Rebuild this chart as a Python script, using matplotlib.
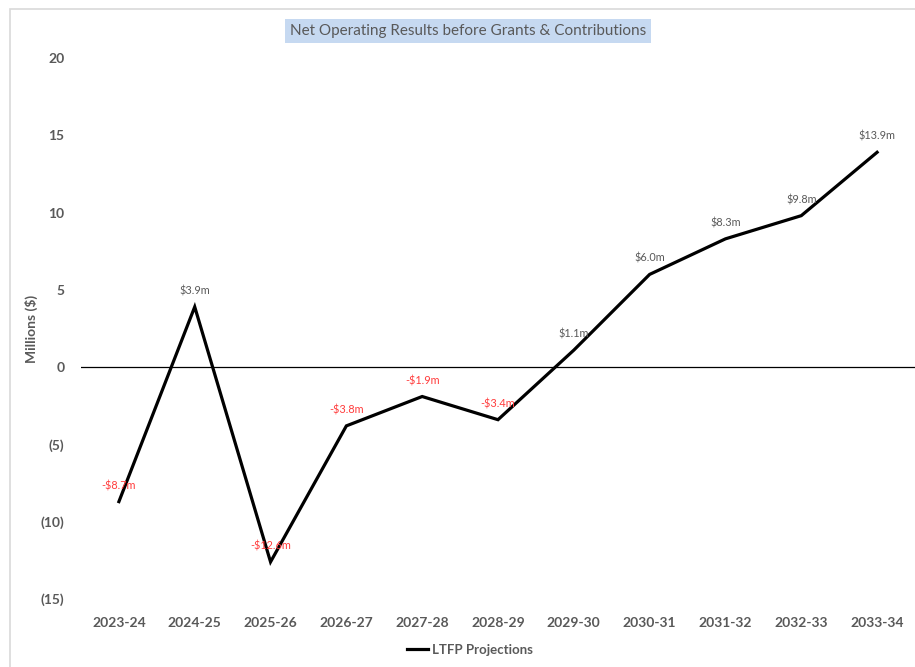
import matplotlib
matplotlib.use("Agg")
import matplotlib.pyplot as plt
from matplotlib.patches import Rectangle
from matplotlib.lines import Line2D

plt.rcParams['font.family'] = ['Lato', 'DejaVu Sans']

years = ["2023-24", "2024-25", "2025-26", "2026-27", "2027-28", "2028-29",
         "2029-30", "2030-31", "2031-32", "2032-33", "2033-34"]
values = [-8.7, 3.9, -12.6, -3.8, -1.9, -3.4, 1.1, 6.0, 8.3, 9.8, 13.9]
yticks = [-15, -10, -5, 0, 5, 10, 15, 20]
ytick_labels = ["(15)", "(10)", "(5)", "0", "5", "10", "15", "20"]
series_name = "LTFP Projections"
title = "Net Operating Results before Grants & Contributions"

fig = plt.figure(figsize=(9.15, 6.67), dpi=100)
ax = fig.add_axes([81/915, 1-599/667, 1-81/915, (599-58)/667])

x = list(range(len(years)))
ax.plot(x, values, color='black', lw=2.3, solid_joinstyle='miter')
ax.axhline(0, color='black', lw=0.9, zorder=1)

for xi, v in zip(x, values):
    col = '#FF3B3B' if v < 0 else '#595959'
    lab = f"-${abs(v):.1f}m" if v < 0 else f"${v:.1f}m"
    ax.annotate(lab, (xi, v), xytext=(0, 7.5), textcoords='offset points',
                ha='center', va='bottom', fontsize=7.8, color=col)

ax.set_xlim(-0.5, len(years) - 0.5)
ax.set_ylim(-15, 20)
ax.set_xticks(x)
ax.set_xticklabels(years, fontsize=10, fontweight='bold', color='#595959')
ax.set_yticks(yticks)
ax.set_yticklabels(ytick_labels, fontsize=10, fontweight='bold', color='#595959')
ax.tick_params(axis='x', length=0, pad=13)
ax.tick_params(axis='y', length=0, pad=12)
for s in ax.spines.values():
    s.set_visible(False)
ax.set_ylabel("Millions ($)", fontsize=10, fontweight='bold', color='#595959')
ax.yaxis.set_label_coords(-0.051, 0.5)

fig.text(468/915, 1-31/667, title, ha='center', va='center', fontsize=11,
         color='#595959',
         bbox=dict(boxstyle='square,pad=0.3', facecolor='#C6D9F1', edgecolor='none'))

handle = Line2D([], [], color='black', lw=2.3)
fig.legend([handle], [series_name], loc='center', bbox_to_anchor=(470/915, 1-650/667),
           frameon=False, prop={'size': 9.5, 'weight': 'bold'}, labelcolor='#595959',
           handlelength=1.6, handletextpad=0.3)

fig.patches.append(Rectangle((10/915, -0.01), 1, 1 - 9/667 + 0.01, transform=fig.transFigure,
                             fill=False, edgecolor='#D9D9D9', lw=1.2))

fig.savefig("out.png", dpi=100)
